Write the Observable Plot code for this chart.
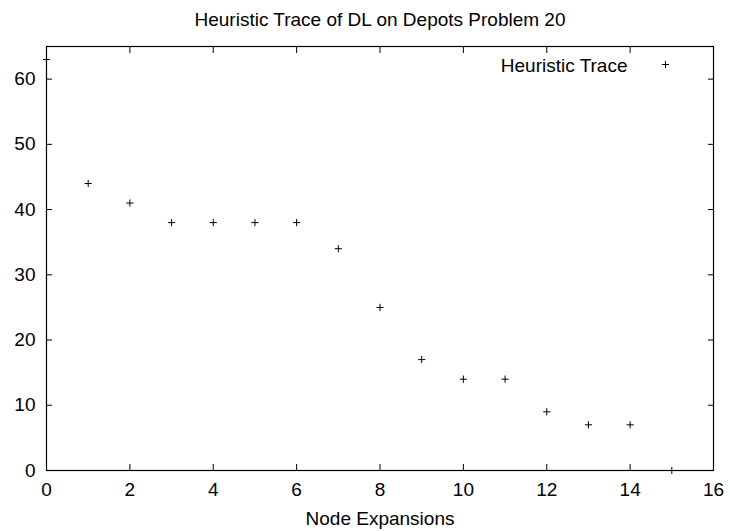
<!DOCTYPE html>
<html>
<head>
<meta charset="utf-8">
<script src="https://cdn.jsdelivr.net/npm/d3@7"></script>
<script src="https://cdn.jsdelivr.net/npm/@observablehq/plot@0.6"></script>
<style>
  html, body { margin: 0; padding: 0; background: #fff; }
  #chart svg { display: block; }
</style>
</head>
<body>
<div id="chart"></div>
<script>
const title = "Heuristic Trace of DL on Depots Problem 20";
const xLabel = "Node Expansions";
const seriesName = "Heuristic Trace";
const expansions = [0, 1, 2, 3, 4, 5, 6, 7, 8, 9, 10, 11, 12, 13, 14, 15];
const heuristic = [63, 44, 41, 38, 38, 38, 38, 34, 25, 17, 14, 14, 9, 7, 7, 0];
const xTicks = [0, 2, 4, 6, 8, 10, 12, 14, 16];
const yTicks = [0, 10, 20, 30, 40, 50, 60];

const data = expansions.map((x, i) => ({x, h: heuristic[i]}));

const plusSymbol = {
  draw(ctx, size) {
    const r = Math.sqrt(size / Math.PI);
    ctx.moveTo(-r, 0); ctx.lineTo(r, 0);
    ctx.moveTo(0, -r); ctx.lineTo(0, r);
  }
};

const font = "'Liberation Sans', Arial, Helvetica, sans-serif";
const fs = 19;

const chart = Plot.plot({
  width: 730,
  height: 531,
  marginLeft: 46,
  marginRight: 17,
  marginTop: 46,
  marginBottom: 61,
  style: {fontFamily: font, fontSize: fs + "px", color: "#000", background: "#fff"},
  x: {domain: [0, 16], ticks: xTicks},
  y: {domain: [0, 65], ticks: yTicks},
  marks: [
    Plot.frame({stroke: "#000", strokeWidth: 1.2}),
    // inward ticks on all four sides
    Plot.axisX(xTicks, {anchor: "bottom", tickSize: -6, tickFormat: () => "", label: null, stroke: "#000"}),
    Plot.axisX(xTicks, {anchor: "top", tickSize: -6, tickFormat: () => "", label: null, stroke: "#000"}),
    Plot.axisY(yTicks, {anchor: "left", tickSize: -6, tickFormat: () => "", label: null, stroke: "#000"}),
    Plot.axisY(yTicks, {anchor: "right", tickSize: -6, tickFormat: () => "", label: null, stroke: "#000"}),
    // tick labels
    Plot.axisX(xTicks, {anchor: "bottom", tickSize: 0, tickPadding: 12, label: null, fontSize: fs, fill: "#000"}),
    Plot.axisY(yTicks, {anchor: "left", tickSize: 0, tickPadding: 11, label: null, fontSize: fs, fill: "#000"}),
    // data points
    Plot.dot(data, {x: "x", y: "h", symbol: plusSymbol, r: 3.6, stroke: "#000", strokeWidth: 1, fill: "none", clip: false}),
    // title
    Plot.text([title], {frameAnchor: "top", lineAnchor: "bottom", dy: -21, fontSize: fs, fill: "#000"}),
    // x-axis label
    Plot.text([xLabel], {frameAnchor: "bottom", lineAnchor: "bottom", dy: 54, fontSize: fs, fill: "#000"}),
    // legend
    Plot.text([seriesName], {frameAnchor: "top-right", textAnchor: "end", lineAnchor: "bottom", dx: -86, dy: 25, fontSize: fs, fill: "#000"}),
    Plot.dot([seriesName], {frameAnchor: "top-right", dx: -48, dy: 18, symbol: plusSymbol, r: 3.6, stroke: "#000", strokeWidth: 1, fill: "none"})
  ]
});
document.getElementById("chart").appendChild(chart);
</script>
</body>
</html>
